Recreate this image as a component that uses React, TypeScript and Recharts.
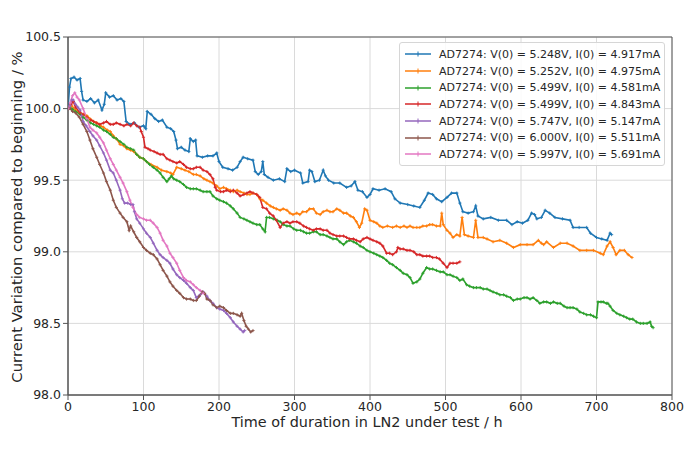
import {
  LineChart,
  Line,
  XAxis,
  YAxis,
  CartesianGrid,
  ReferenceArea,
  Legend,
} from "recharts";

type Pt = [number, number];

// time in hours, current relative to the start in %
const blue: Pt[] = [
  [0, 100.0], [2, 100.15], [4, 100.21], [8, 100.22], [12, 100.2], [16, 100.21], [18, 100.12], [20, 100.06],
  [25, 100.05], [30, 100.07], [35, 100.04], [40, 100.06], [45, 99.99], [48, 100.03], [50, 100.11], [55, 100.08],
  [60, 100.09], [65, 100.06], [70, 100.07], [74, 100.05], [77, 99.91], [82, 99.89], [88, 99.9], [94, 99.87],
  [100, 99.88], [103, 99.86], [105, 99.98], [110, 99.96], [115, 99.93], [120, 99.91], [125, 99.92], [131, 99.87],
  [136, 99.86], [140, 99.84], [143, 99.78], [145, 99.72], [150, 99.73], [155, 99.71], [160, 99.7], [162, 99.79],
  [166, 99.77], [169, 99.78], [171, 99.67], [178, 99.66], [185, 99.67], [192, 99.67], [197, 99.69], [200, 99.63],
  [205, 99.59], [212, 99.58], [218, 99.57], [224, 99.59], [228, 99.63], [232, 99.66], [238, 99.65], [245, 99.64],
  [248, 99.56], [252, 99.54], [256, 99.56], [258, 99.63], [260, 99.54], [265, 99.52], [272, 99.5], [280, 99.51],
  [287, 99.49], [290, 99.58], [295, 99.56], [300, 99.57], [308, 99.55], [311, 99.48], [318, 99.49], [320, 99.57],
  [323, 99.56], [327, 99.49], [333, 99.5], [338, 99.57], [341, 99.53], [345, 99.5], [352, 99.48], [360, 99.48],
  [369, 99.45], [375, 99.46], [380, 99.49], [384, 99.43], [390, 99.42], [396, 99.38], [400, 99.4], [404, 99.44],
  [412, 99.43], [420, 99.44], [428, 99.42], [433, 99.37], [440, 99.34], [450, 99.33], [458, 99.32], [466, 99.31],
  [472, 99.36], [477, 99.41], [483, 99.4], [488, 99.37], [495, 99.35], [502, 99.38], [508, 99.41], [515, 99.41],
  [519, 99.34], [523, 99.28], [530, 99.27], [537, 99.28], [540, 99.32], [543, 99.25], [550, 99.23], [560, 99.24],
  [570, 99.22], [581, 99.22], [588, 99.19], [595, 99.21], [602, 99.2], [609, 99.22], [614, 99.27], [618, 99.26],
  [621, 99.23], [627, 99.24], [632, 99.29], [638, 99.27], [645, 99.24], [655, 99.23], [665, 99.22], [669, 99.17],
  [677, 99.17], [687, 99.17], [692, 99.13], [700, 99.1], [707, 99.09], [714, 99.08], [718, 99.13], [720, 99.12],
];

const orange: Pt[] = [
  [0, 100.0], [5, 100.02], [10, 99.99], [16, 99.97], [20, 99.96], [25, 99.95], [29, 99.93], [34, 99.91],
  [38, 99.9], [43, 99.88], [47, 99.87], [52, 99.85], [56, 99.84], [60, 99.81], [64, 99.79], [69, 99.75],
  [74, 99.74], [78, 99.72], [83, 99.71], [87, 99.7], [91, 99.68], [95, 99.66], [100, 99.65], [104, 99.63],
  [110, 99.61], [118, 99.59], [124, 99.57], [131, 99.56], [136, 99.55], [139, 99.54], [144, 99.59], [150, 99.58],
  [155, 99.57], [160, 99.56], [166, 99.54], [170, 99.54], [175, 99.53], [180, 99.51], [184, 99.5], [188, 99.49],
  [192, 99.48], [197, 99.46], [201, 99.44], [206, 99.45], [210, 99.44], [215, 99.43], [219, 99.42], [224, 99.43],
  [228, 99.42], [233, 99.41], [237, 99.4], [241, 99.4], [245, 99.41], [250, 99.4], [254, 99.37], [258, 99.36],
  [263, 99.34], [268, 99.32], [272, 99.31], [276, 99.3], [281, 99.29], [285, 99.3], [290, 99.29], [294, 99.27],
  [298, 99.26], [303, 99.27], [307, 99.26], [311, 99.28], [316, 99.28], [320, 99.3], [325, 99.3], [329, 99.27],
  [334, 99.26], [338, 99.28], [343, 99.29], [347, 99.28], [351, 99.28], [356, 99.3], [360, 99.29], [365, 99.27],
  [369, 99.27], [374, 99.25], [378, 99.24], [382, 99.21], [386, 99.17], [389, 99.2], [393, 99.3], [396, 99.29],
  [400, 99.22], [405, 99.21], [409, 99.2], [413, 99.18], [417, 99.17], [423, 99.18], [430, 99.17], [435, 99.18],
  [440, 99.17], [445, 99.18], [449, 99.17], [453, 99.18], [457, 99.17], [462, 99.17], [466, 99.17], [470, 99.18],
  [475, 99.18], [479, 99.19], [483, 99.19], [488, 99.18], [493, 99.18], [495, 99.27], [497, 99.19], [502, 99.15],
  [506, 99.13], [510, 99.1], [515, 99.12], [519, 99.11], [522, 99.24], [525, 99.12], [530, 99.11], [537, 99.1],
  [540, 99.22], [543, 99.1], [550, 99.1], [555, 99.09], [563, 99.07], [572, 99.08], [581, 99.06], [590, 99.03],
  [599, 99.05], [608, 99.05], [616, 99.05], [623, 99.08], [627, 99.06], [630, 99.05], [634, 99.07], [643, 99.03],
  [652, 99.06], [661, 99.06], [669, 99.04], [678, 99.01], [687, 99.01], [696, 99.01], [705, 98.99], [709, 98.98],
  [714, 99.04], [718, 99.07], [722, 99.03], [726, 98.98], [731, 99.01], [737, 99.01], [742, 98.98], [747, 98.96],
];

const green: Pt[] = [
  [0, 100.0], [5, 100.0], [10, 99.98], [16, 99.96], [20, 99.94], [25, 99.92], [30, 99.9], [34, 99.89],
  [38, 99.88], [42, 99.87], [47, 99.85], [51, 99.84], [56, 99.82], [60, 99.8], [64, 99.79], [69, 99.77],
  [74, 99.75], [78, 99.73], [83, 99.72], [87, 99.71], [91, 99.68], [95, 99.66], [100, 99.65], [104, 99.63],
  [108, 99.61], [113, 99.59], [118, 99.57], [122, 99.55], [126, 99.52], [131, 99.49], [134, 99.51], [137, 99.53],
  [140, 99.51], [144, 99.5], [148, 99.49], [153, 99.47], [157, 99.45], [162, 99.44], [166, 99.44], [170, 99.44],
  [175, 99.43], [179, 99.42], [184, 99.42], [188, 99.42], [192, 99.39], [197, 99.37], [201, 99.36], [206, 99.35],
  [210, 99.34], [215, 99.32], [219, 99.3], [224, 99.27], [228, 99.24], [233, 99.23], [237, 99.22], [241, 99.21],
  [245, 99.2], [250, 99.19], [254, 99.19], [258, 99.16], [261, 99.14], [263, 99.24], [267, 99.24], [272, 99.23],
  [277, 99.22], [281, 99.21], [285, 99.19], [290, 99.18], [294, 99.18], [299, 99.16], [303, 99.15], [308, 99.15],
  [312, 99.14], [316, 99.13], [320, 99.13], [325, 99.14], [329, 99.14], [334, 99.12], [338, 99.12], [343, 99.11],
  [347, 99.1], [351, 99.09], [356, 99.09], [360, 99.07], [365, 99.05], [369, 99.07], [373, 99.08], [378, 99.07],
  [382, 99.06], [387, 99.04], [391, 99.03], [396, 99.01], [400, 99.0], [405, 98.99], [409, 98.98], [413, 98.97],
  [417, 98.96], [422, 98.94], [426, 98.92], [430, 98.91], [435, 98.89], [440, 98.87], [444, 98.85], [449, 98.84],
  [453, 98.82], [457, 98.78], [462, 98.79], [466, 98.81], [470, 98.85], [475, 98.89], [479, 98.88], [483, 98.88],
  [488, 98.87], [493, 98.86], [497, 98.86], [502, 98.84], [506, 98.84], [510, 98.83], [515, 98.82], [519, 98.8],
  [523, 98.81], [528, 98.77], [532, 98.76], [537, 98.75], [541, 98.75], [546, 98.75], [550, 98.74], [555, 98.74],
  [559, 98.73], [563, 98.72], [568, 98.71], [572, 98.7], [577, 98.7], [581, 98.69], [586, 98.68], [590, 98.66],
  [595, 98.67], [599, 98.67], [604, 98.68], [608, 98.68], [612, 98.67], [616, 98.68], [621, 98.66], [625, 98.64],
  [630, 98.65], [634, 98.65], [639, 98.64], [643, 98.65], [648, 98.64], [652, 98.64], [657, 98.62], [661, 98.61],
  [665, 98.61], [669, 98.61], [674, 98.6], [678, 98.58], [683, 98.57], [687, 98.56], [692, 98.56], [696, 98.55],
  [700, 98.54], [702, 98.65], [706, 98.65], [709, 98.65], [713, 98.64], [715, 98.64], [718, 98.62], [722, 98.59],
  [727, 98.57], [731, 98.56], [736, 98.55], [740, 98.54], [744, 98.53], [748, 98.53], [753, 98.51], [758, 98.5],
  [762, 98.5], [767, 98.5], [771, 98.51], [773, 98.48], [775, 98.47],
];

const red: Pt[] = [
  [0, 100.0], [4, 100.03], [7, 100.05], [10, 100.01], [16, 99.97], [20, 99.96], [25, 99.94], [30, 99.92],
  [34, 99.91], [38, 99.9], [42, 99.89], [47, 99.9], [51, 99.91], [56, 99.89], [60, 99.89], [64, 99.9],
  [69, 99.89], [74, 99.88], [78, 99.89], [83, 99.88], [87, 99.9], [91, 99.88], [95, 99.87], [97, 99.84],
  [100, 99.8], [102, 99.73], [106, 99.72], [109, 99.71], [114, 99.7], [118, 99.69], [122, 99.68], [126, 99.68],
  [131, 99.65], [135, 99.64], [139, 99.63], [144, 99.62], [148, 99.63], [153, 99.61], [157, 99.59], [162, 99.58],
  [166, 99.58], [170, 99.59], [175, 99.59], [179, 99.57], [184, 99.56], [188, 99.54], [192, 99.51], [195, 99.45],
  [197, 99.43], [202, 99.42], [206, 99.42], [210, 99.43], [215, 99.42], [219, 99.43], [224, 99.41], [228, 99.39],
  [233, 99.4], [237, 99.41], [241, 99.42], [245, 99.41], [250, 99.4], [254, 99.38], [258, 99.31], [263, 99.3],
  [267, 99.27], [272, 99.25], [276, 99.22], [281, 99.17], [285, 99.2], [290, 99.21], [294, 99.2], [298, 99.21],
  [303, 99.21], [307, 99.2], [312, 99.18], [316, 99.17], [320, 99.16], [325, 99.15], [329, 99.16], [334, 99.16],
  [338, 99.15], [343, 99.15], [347, 99.13], [351, 99.12], [356, 99.11], [360, 99.11], [365, 99.11], [369, 99.1],
  [373, 99.09], [378, 99.09], [382, 99.08], [387, 99.07], [391, 99.09], [396, 99.1], [400, 99.09], [404, 99.08],
  [409, 99.07], [413, 99.06], [417, 99.04], [422, 98.99], [426, 98.99], [430, 98.98], [435, 99.0], [437, 99.03],
  [440, 99.02], [444, 99.02], [449, 99.01], [453, 99.01], [458, 99.0], [462, 98.98], [466, 98.98], [470, 98.97],
  [475, 98.97], [479, 98.97], [483, 98.96], [488, 98.96], [492, 98.95], [497, 98.92], [502, 98.89], [506, 98.92],
  [510, 98.92], [515, 98.92], [519, 98.93],
];

const purple: Pt[] = [
  [0, 100.0], [3, 100.02], [5, 100.06], [7, 100.06], [10, 100.03], [13, 100.01], [16, 99.99], [18, 99.95],
  [20, 99.91], [24, 99.88], [29, 99.84], [33, 99.81], [38, 99.78], [42, 99.74], [47, 99.69], [51, 99.64],
  [56, 99.57], [60, 99.55], [64, 99.5], [69, 99.43], [72, 99.37], [75, 99.34], [79, 99.34], [83, 99.33],
  [86, 99.33], [88, 99.28], [91, 99.23], [95, 99.2], [100, 99.16], [104, 99.13], [109, 99.1], [113, 99.06],
  [118, 99.01], [122, 98.98], [126, 98.96], [131, 98.94], [135, 98.92], [139, 98.88], [144, 98.84], [148, 98.82],
  [153, 98.8], [157, 98.78], [162, 98.75], [166, 98.73], [170, 98.68], [175, 98.7], [179, 98.72], [184, 98.69],
  [188, 98.66], [192, 98.64], [197, 98.61], [201, 98.6], [206, 98.59], [210, 98.57], [215, 98.54], [219, 98.51],
  [224, 98.48], [228, 98.46], [232, 98.44], [234, 98.45],
];

const brown: Pt[] = [
  [0, 100.0], [3, 100.0], [6, 99.98], [10, 99.97], [15, 99.94], [20, 99.89], [25, 99.84], [29, 99.78],
  [33, 99.72], [38, 99.66], [42, 99.61], [47, 99.55], [51, 99.49], [56, 99.43], [60, 99.36], [64, 99.31],
  [69, 99.27], [73, 99.24], [78, 99.21], [81, 99.15], [83, 99.18], [87, 99.14], [91, 99.1], [95, 99.07],
  [100, 99.03], [104, 99.01], [109, 98.99], [113, 98.98], [118, 98.95], [122, 98.91], [126, 98.87], [131, 98.83],
  [135, 98.79], [139, 98.76], [144, 98.73], [148, 98.71], [153, 98.68], [157, 98.67], [162, 98.67], [166, 98.66],
  [170, 98.66], [174, 98.69], [178, 98.72], [181, 98.71], [184, 98.67], [188, 98.66], [192, 98.63], [197, 98.61],
  [201, 98.62], [206, 98.61], [210, 98.59], [215, 98.57], [219, 98.57], [224, 98.56], [228, 98.55], [230, 98.57],
  [233, 98.52], [236, 98.48], [239, 98.46], [242, 98.44], [245, 98.45],
];

const pink: Pt[] = [
  [0, 100.0], [3, 100.04], [6, 100.09], [9, 100.11], [12, 100.08], [15, 100.06], [20, 100.0], [25, 99.93],
  [29, 99.87], [33, 99.85], [38, 99.83], [42, 99.8], [47, 99.76], [51, 99.71], [56, 99.65], [60, 99.61],
  [64, 99.57], [69, 99.52], [73, 99.48], [78, 99.42], [82, 99.36], [86, 99.31], [91, 99.26], [95, 99.24],
  [100, 99.23], [104, 99.22], [109, 99.22], [113, 99.2], [118, 99.17], [122, 99.13], [126, 99.08], [131, 99.04],
  [135, 98.99], [139, 98.96], [144, 98.92], [148, 98.87], [153, 98.82], [157, 98.8], [162, 98.79], [166, 98.77],
  [170, 98.75], [175, 98.73], [179, 98.71],
];

const seriesNames = [
  "AD7274: V(0) = 5.248V, I(0) = 4.917mA",
  "AD7274: V(0) = 5.252V, I(0) = 4.975mA",
  "AD7274: V(0) = 5.499V, I(0) = 4.581mA",
  "AD7274: V(0) = 5.499V, I(0) = 4.843mA",
  "AD7274: V(0) = 5.747V, I(0) = 5.147mA",
  "AD7274: V(0) = 6.000V, I(0) = 5.511mA",
  "AD7274: V(0) = 5.997V, I(0) = 5.691mA",
];
const seriesData = [blue, orange, green, red, purple, brown, pink];
const colors = ["#1f77b4", "#ff7f0e", "#2ca02c", "#d62728", "#9467bd", "#8c564b", "#e377c2"];

const xTicks = [0, 100, 200, 300, 400, 500, 600, 700, 800];
const yTicks = [98.0, 98.5, 99.0, 99.5, 100.0, 100.5];

const FONT = "'DejaVu Sans', sans-serif";

const toRows = (pts: Pt[]) => pts.map(([t, v]) => ({ t, v }));

// tiny "+" marker like the matplotlib one
const markerFor = (color: string) => (props: any) => {
  const { cx, cy, index } = props;
  if (cx == null || cy == null) return <g key={index} />;
  return (
    <path
      key={index}
      d={`M${cx - 1.6},${cy}H${cx + 1.6}M${cx},${cy - 1.6}V${cy + 1.6}`}
      stroke={color}
      strokeWidth={0.9}
      fill="none"
    />
  );
};

function LegendBox() {
  return (
    <div
      style={{
        background: "rgba(255,255,255,0.85)",
        border: "1px solid #d6d6d6",
        borderRadius: 3,
        padding: "3px 4px 2px 4px",
        fontFamily: FONT,
        fontSize: 11,
        color: "#262626",
      }}
    >
      {seriesNames.map((name, i) => (
        <div key={name} style={{ display: "flex", alignItems: "center", height: 16.7 }}>
          <svg width={28} height={10} style={{ marginRight: 7 }}>
            <line x1={1} y1={5} x2={27} y2={5} stroke={colors[i]} strokeWidth={1.5} />
            <line x1={14} y1={2.5} x2={14} y2={7.5} stroke={colors[i]} strokeWidth={1} />
          </svg>
          <span style={{ whiteSpace: "nowrap" }}>{name}</span>
        </div>
      ))}
    </div>
  );
}

export default function App() {
  return (
    <div style={{ position: "absolute", left: 0, top: 0, background: "#fff" }}>
      <LineChart width={691} height={460} margin={{ top: 37, right: 19, bottom: 30, left: 8 }}>
        <CartesianGrid stroke="#dadada" strokeWidth={1} />
        <XAxis
          type="number"
          dataKey="t"
          domain={[0, 800]}
          ticks={xTicks}
          allowDataOverflow
          height={35}
          tickSize={5}
          tickMargin={2}
          stroke="#555"
          tick={{ fontSize: 12.5, fill: "#262626", fontFamily: FONT }}
          label={() => (
            <text x={367} y={427} textAnchor="middle" fontSize={14.4} fill="#262626" fontFamily={FONT}>
              Time of duration in LN2 under test / h
            </text>
          )}
        />
        <YAxis
          type="number"
          dataKey="v"
          domain={[98, 100.5]}
          ticks={yTicks}
          allowDataOverflow
          width={60}
          tickSize={5}
          tickMargin={2}
          stroke="#555"
          tickFormatter={(v: number) => v.toFixed(1)}
          tick={{ fontSize: 12.5, fill: "#262626", fontFamily: FONT }}
          label={() => (
            <text
              x={16}
              y={217}
              transform="rotate(-90 16 217)"
              textAnchor="middle"
              dominantBaseline="central"
              fontSize={14.8}
              fill="#262626"
              fontFamily={FONT}
            >
              Current Variation compared to beginning / %
            </text>
          )}
        />
        <ReferenceArea x1={0} x2={800} y1={98} y2={100.5} fill="none" stroke="#555" strokeWidth={1} />
        {seriesData.map((pts, i) => (
          <Line
            key={seriesNames[i]}
            data={toRows(pts)}
            dataKey="v"
            name={seriesNames[i]}
            type="linear"
            stroke={colors[i]}
            strokeWidth={1.6}
            dot={markerFor(colors[i])}
            isAnimationActive={false}
          />
        ))}
        <Legend
          layout="vertical"
          align="center"
          verticalAlign="middle"
          content={() => <LegendBox />}
          wrapperStyle={{ left: 399, top: 42, width: "auto" }}
        />
      </LineChart>
    </div>
  );
}
